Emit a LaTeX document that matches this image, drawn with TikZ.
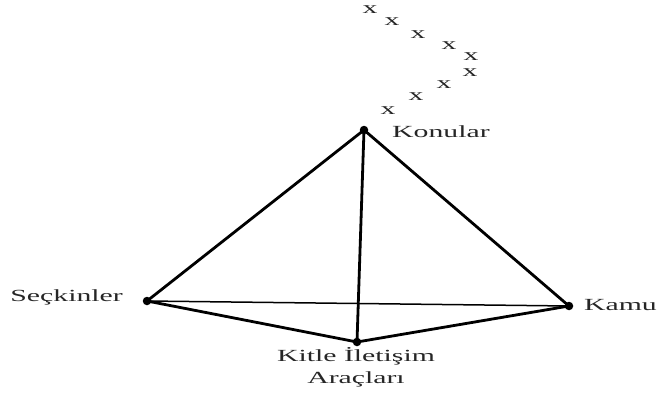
\documentclass[tikz,border=0pt]{standalone}
\usepackage{fontspec}
\setmainfont{Liberation Serif}
\newfontfamily\widefont[FakeStretch=1.75]{Liberation Serif}
\begin{document}
\begin{tikzpicture}[x=1pt,y=-1pt,
  vdot/.style={circle,fill=black,inner sep=0pt,minimum size=8.5pt},
  lbl/.style={font=\widefont\fontsize{17}{19}\selectfont,inner sep=0pt,text=black!85},
  xmark/.style={font=\widefont\fontsize{17}{18}\selectfont,inner sep=0pt,text=black!85},
  side/.style={line width=2.8pt,line cap=round},
  base/.style={line width=1.5pt}]
\useasboundingbox (0,0) rectangle (659,396);
\node[vdot] (top) at (364,130) {};
\node[vdot] (left) at (147,301) {};
\node[vdot] (right) at (569,306) {};
\node[vdot] (bottom) at (357,342) {};
\draw[base] (left.center) -- (right.center);
\draw[side] (top.center) -- (left.center);
\draw[side] (top.center) -- (right.center);
\draw[side] (top.center) -- (bottom.center);
\draw[side] (left.center) -- (bottom.center);
\draw[side] (bottom.center) -- (right.center);
\node[lbl,anchor=west] (konular) at (392,132) {Konular};
\node[lbl,anchor=east] (seckin) at (123,297) {Seçkinler};
\node[lbl,anchor=east] (kamu) at (657,305) {Kamu};
\node[lbl] (kitle) at (356,356) {Kitle İletişim};
\node[lbl] (arac) at (356,379) {Araçları};
\node[xmark] (x1) at (370,10) {x};
\node[xmark] (x2) at (392,22) {x};
\node[xmark] (x3) at (418,35) {x};
\node[xmark] (x4) at (449,46) {x};
\node[xmark] (x5) at (471,57) {x};
\node[xmark] (x6) at (470,73) {x};
\node[xmark] (x7) at (444,85) {x};
\node[xmark] (x8) at (416,97) {x};
\node[xmark] (x9) at (388,111) {x};
\end{tikzpicture}
\end{document}
